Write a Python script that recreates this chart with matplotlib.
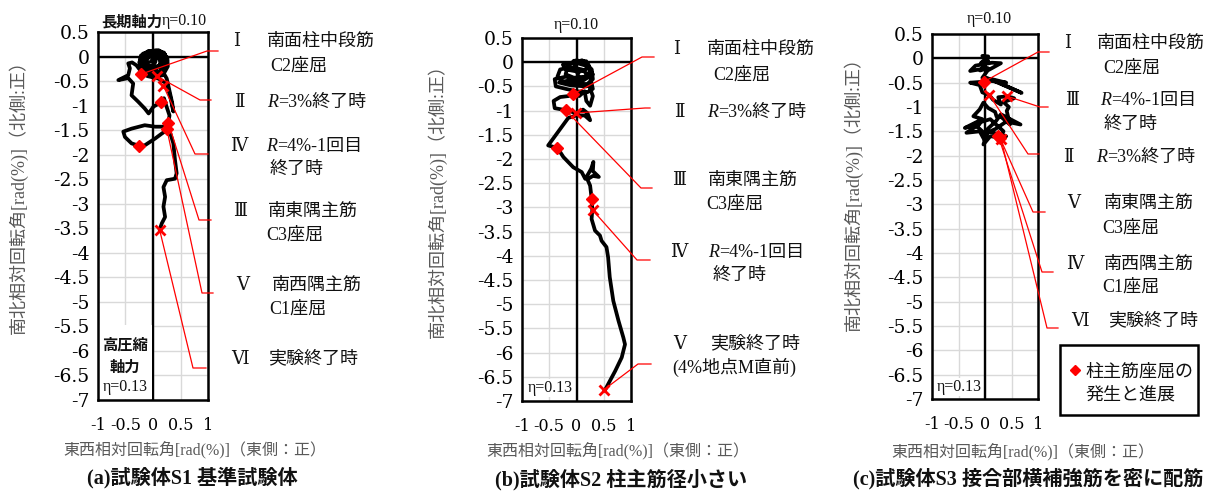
import matplotlib
matplotlib.use('Agg')
import matplotlib.pyplot as plt
from matplotlib.lines import Line2D
from matplotlib.patches import Rectangle

CJK = 'Noto Sans CJK JP'
plt.rcParams['font.family'] = ['Liberation Serif', CJK]

# ---- data -------------------------------------------------------------
xticks = [-1, -0.5, 0, 0.5, 1]
xticklabels = ['-1', '-0.5', '0', '0.5', '1']
yticks = [0.5, 0, -0.5, -1, -1.5, -2, -2.5, -3, -3.5, -4, -4.5, -5, -5.5, -6, -6.5, -7]
yticklabels = ['0.5', '0', '-0.5', '-1', '-1.5', '-2', '-2.5', '-3', '-3.5', '-4',
               '-4.5', '-5', '-5.5', '-6', '-6.5', '-7']

# 東西(x) / 南北(y) 相対回転角の軌跡 [rad(%)]
path_a = [(0, 0), (0.08, 0.1), (0.18, 0.06), (0.24, -0.05), (0.22, -0.2), (0.12, -0.3),
          (-0.02, -0.32), (-0.15, -0.25), (-0.2, -0.1), (-0.12, 0.05), (0.0, 0.12),
          (0.15, 0.1), (0.26, -0.02), (0.27, -0.2), (0.18, -0.38), (0.02, -0.42),
          (-0.14, -0.35), (-0.24, -0.18), (-0.22, 0.02), (-0.08, 0.11), (0.1, 0.13),
          (0.22, 0.04), (0.2, -0.12), (0.08, -0.2), (-0.08, -0.18), (-0.12, -0.05),
          (0.0, 0.03), (0.05, 0.12), (0.2, 0.08), (0.26, -0.08), (0.22, -0.28),
          (0.05, -0.36), (-0.15, -0.32), (-0.25, -0.12), (-0.18, 0.06), (0.0, 0.1),
          (0.14, 0.02), (0.17, -0.14), (0.05, -0.25), (-0.1, -0.22), (-0.16, -0.08),
          (-0.05, 0.04), (0.06, -0.02), (0.04, -0.12), (-0.04, -0.1), (0.1, 0.06),
          (0.23, -0.1), (0.2, -0.33), (0.0, -0.38), (-0.2, -0.28), (-0.23, -0.05),
          (-0.1, 0.1), (0.12, 0.1), (0.12, -0.05), (0.15, -0.25), (0.25, -0.45), (0.3, -0.7),
          (0.35, -0.95), (0.37, -1.12), (0.32, -0.85), (0.25, -0.55), (0.1, -0.45),
          (-0.1, -0.4), (-0.22, -0.3), (-0.3, -0.18), (-0.38, -0.12), (-0.45, -0.14),
          (-0.42, -0.24), (-0.45, -0.38), (-0.63, -0.48), (-0.45, -0.44), (-0.36, -0.55),
          (-0.39, -0.79), (-0.27, -0.92), (-0.15, -1.06), (-0.08, -1.16), (0.01, -1.02),
          (0.15, -0.93), (0.2, -0.85), (0.24, -1.0), (0.3, -1.2), (0.28, -1.35),
          (0.25, -1.43), (0.04, -1.43), (-0.15, -1.40), (-0.39, -1.47), (-0.54, -1.53),
          (-0.51, -1.64), (-0.39, -1.77), (-0.25, -1.82), (-0.15, -1.81), (0.04, -1.67),
          (0.16, -1.57), (0.25, -1.50), (0.31, -1.55), (0.37, -1.77), (0.4, -2.11),
          (0.43, -2.38), (0.40, -2.49), (0.25, -2.52), (0.19, -2.66), (0.22, -2.86),
          (0.19, -3.06), (0.22, -3.27), (0.16, -3.40), (0.12, -3.53)]

path_b = [(0, 0), (0.1, 0.04), (0.22, -0.05), (0.25, -0.2), (0.15, -0.3), (-0.05, -0.32),
          (-0.2, -0.25), (-0.15, -0.05), (0, 0.04), (0.15, 0.0), (0.28, -0.15), (0.3, -0.35),
          (0.2, -0.45), (0.0, -0.45), (-0.25, -0.4), (-0.35, -0.3), (-0.3, -0.15),
          (-0.1, -0.1), (0.1, -0.15), (0.25, -0.3), (0.3, -0.55), (0.2, -0.62), (0.0, -0.6),
          (-0.2, -0.55), (-0.38, -0.5), (-0.4, -0.35), (-0.2, -0.3), (0.05, -0.35),
          (-0.05, 0.03), (0.18, 0.02), (0.22, -0.12), (0.05, -0.2), (-0.2, -0.15),
          (-0.25, -0.05), (-0.05, 0.0), (0.2, -0.08), (0.3, -0.25), (0.12, -0.38),
          (-0.15, -0.38), (-0.32, -0.42), (-0.1, -0.48), (0.18, -0.5), (0.26, -0.4),
          (0.22, -0.45), (0.3, -0.7), (0.25, -0.9), (0.18, -0.8), (0.15, -0.6), (0.05, -0.7),
          (-0.06, -0.66), (-0.15, -0.7), (-0.3, -0.72), (-0.42, -0.8), (-0.4, -0.95),
          (-0.2, -0.99), (-0.01, -1.05), (0.12, -0.98), (0.2, -1.05), (0.25, -1.2),
          (0.15, -1.1), (0.0, -1.1), (-0.15, -1.15), (-0.52, -1.72), (-0.35, -1.77),
          (-0.24, -1.96), (-0.06, -2.17), (0.095, -2.27), (0.16, -2.41), (0.22, -2.3),
          (0.27, -2.2), (0.31, -2.06), (0.3, -2.25), (0.41, -2.37), (0.3, -2.35),
          (0.2, -2.42), (0.25, -2.55), (0.28, -2.84), (0.29, -3.05), (0.277, -3.24),
          (0.34, -3.48), (0.43, -3.58), (0.46, -3.69), (0.55, -3.82), (0.58, -4.03),
          (0.61, -4.44), (0.675, -4.93), (0.77, -5.34), (0.86, -5.69), (0.89, -5.83),
          (0.83, -6.10), (0.71, -6.38), (0.52, -6.78)]

path_c = [(0, 0), (-0.05, 0.05), (0.06, 0.04), (-0.08, -0.1), (0.06, -0.05), (-0.09, -0.25),
          (0.05, -0.2), (-0.28, -0.26), (-0.18, -0.15), (0.13, -0.09), (0.3, -0.1),
          (0.05, -0.25), (-0.05, -0.4), (0.03, -0.4), (0.69, -0.71), (0.1, -0.42),
          (0.4, -0.5), (0.0, -0.45), (-0.02, -0.48), (-0.28, -0.5), (-0.1, -0.55),
          (-0.05, -0.7), (0.08, -0.75), (0.15, -0.85), (0.3, -0.95), (0.25, -0.8),
          (0.42, -0.78), (0.55, -0.82), (0.35, -0.9), (0.45, -1.0), (0.41, -1.08),
          (0.47, -1.36), (0.3, -1.2), (0.22, -1.2), (0.19, -1.1), (0.06, -1.02),
          (-0.03, -0.91), (-0.1, -1.05), (-0.22, -1.19), (-0.05, -1.25), (-0.38, -1.43),
          (-0.1, -1.35), (-0.35, -1.53), (-0.1, -1.5), (0.0, -1.7), (0.05, -1.45),
          (0.2, -1.3), (0.3, -1.15), (0.67, -1.36), (0.4, -1.3), (0.2, -1.45), (0.0, -1.55),
          (-0.2, -1.35), (0.1, -1.25), (0.35, -1.5), (0.28, -1.63), (0.1, -1.6),
          (-0.03, -1.77), (0.05, -1.5), (0.4, -1.6), (0.28, -1.63)]

# 柱主筋座屈 (◆) と 各サイクル終了点 (×)
diam_a = [(-0.22, -0.36), (0.15, -0.93), (0.28, -1.35), (0.25, -1.47), (-0.25, -1.82)]
cross_a = [(0.07, -0.40), (0.19, -0.60), (0.12, -3.53)]
diam_b = [(-0.06, -0.66), (-0.2, -0.99), (-0.35, -1.77), (0.28, -2.83)]
cross_b = [(-0.01, -1.05), (0.30, -3.06), (0.50, -6.77)]
diam_c = [(-0.02, -0.48), (0.28, -1.63), (0.25, -1.60)]
cross_c = [(0.08, -0.75), (0.42, -0.78), (0.30, -1.65)]

# 引出線の対象点
pts_a = {'Ⅰ': (-0.22, -0.36), 'Ⅱ': (0.07, -0.40), 'Ⅳ': (0.19, -0.60),
         'Ⅲ': (0.28, -1.35), 'Ⅴ': (0.25, -1.47), 'Ⅵ': (0.12, -3.53)}
pts_b = {'Ⅰ': (-0.06, -0.66), 'Ⅱ': (-0.01, -1.05), 'Ⅲ': (-0.2, -0.99),
         'Ⅳ': (0.30, -3.06), 'Ⅴ': (0.50, -6.77)}
pts_c = {'Ⅰ': (-0.02, -0.48), 'Ⅲ': (0.42, -0.78), 'Ⅱ': (0.08, -0.75),
         'Ⅴ': (0.28, -1.63), 'Ⅳ': (0.26, -1.62), 'Ⅵ': (0.30, -1.65)}

# 注記テキスト
notes_a = [('Ⅰ', ['南面柱中段筋', 'C2座屈']), ('Ⅱ', ['R=3%終了時']),
           ('Ⅳ', ['R=4%-1回目', '終了時']), ('Ⅲ', ['南東隅主筋', 'C3座屈']),
           ('Ⅴ', ['南西隅主筋', 'C1座屈']), ('Ⅵ', ['実験終了時'])]
notes_b = [('Ⅰ', ['南面柱中段筋', 'C2座屈']), ('Ⅱ', ['R=3%終了時']),
           ('Ⅲ', ['南東隅主筋', 'C3座屈']), ('Ⅳ', ['R=4%-1回目', '終了時']),
           ('Ⅴ', ['実験終了時', '(4%地点M直前)'])]
notes_c = [('Ⅰ', ['南面柱中段筋', 'C2座屈']), ('Ⅲ', ['R=4%-1回目', '終了時']),
           ('Ⅱ', ['R=3%終了時']), ('Ⅴ', ['南東隅主筋', 'C3座屈']),
           ('Ⅳ', ['南西隅主筋', 'C1座屈']), ('Ⅵ', ['実験終了時'])]

titles = ['(a)試験体S1 基準試験体', '(b)試験体S2 柱主筋径小さい', '(c)試験体S3 接合部横補強筋を密に配筋']
xlabel = '東西相対回転角[rad(%)]（東側：正）'
ylabel = '南北相対回転角[rad(%)]（北側:正）'
legend_text = ['柱主筋座屈の', '発生と進展']

# ---- layout (pixels from top-left) -------------------------------------
W, H = 1214, 491
fig = plt.figure(figsize=(W / 100, H / 100), dpi=100)


def P(x, y):
    return (x / W, 1 - y / H)


def ptxt(x, y, s, size=13, **kw):
    # y is the visual centre of the line; place on baseline
    bl = y + 0.37 * size * 100 / 72
    return fig.text(x / W, 1 - bl / H, s, size=size, va='baseline', **kw)


boxes = [(98, 32, 208, 400), (522, 38, 631, 401), (932, 34, 1038, 399)]
paths = [path_a, path_b, path_c]
diams = [diam_a, diam_b, diam_c]
crosses = [cross_a, cross_b, cross_c]
ptss = [pts_a, pts_b, pts_c]
notess = [notes_a, notes_b, notes_c]

# leader line: elbow x, y, end x
elbows = [
    {'Ⅰ': (207, 51, 218), 'Ⅱ': (200, 100, 211), 'Ⅳ': (195, 154, 208),
     'Ⅲ': (199, 220, 211), 'Ⅴ': (202, 293, 213), 'Ⅵ': (193, 368, 206)},
    {'Ⅰ': (642, 57, 654), 'Ⅱ': (645, 108, 650), 'Ⅲ': (641, 188, 652),
     'Ⅳ': (637, 260, 650), 'Ⅴ': (638, 364, 651)},
    {'Ⅰ': (1038, 52, 1049), 'Ⅲ': (1040, 107, 1048), 'Ⅱ': (1028, 154, 1039),
     'Ⅴ': (1033, 212, 1045), 'Ⅳ': (1042, 272, 1053), 'Ⅵ': (1047, 328, 1058)},
]
# numeral centre x, y, text left x, second-line left x, second-line y
note_pos = [
    [(237, 39, 267, 270, 64), (239, 100, 267, 0, 0), (239, 144, 266, 270, 167),
     (240, 209, 268, 266, 233), (243, 283, 272, 269, 307), (240, 357, 268, 0, 0)],
    [(677, 47, 707, 713, 73), (679, 110, 707, 0, 0), (679, 178, 708, 706, 202),
     (679, 250, 708, 713, 273), (680, 342, 710, 672, 366)],
    [(1068, 41, 1097, 1103, 66), (1072, 98, 1100, 1104, 122), (1068, 155, 1096, 0, 0),
     (1074, 201, 1104, 1102, 226), (1075, 262, 1104, 1102, 285), (1080, 319, 1108, 0, 0)],
]
ylabel_pos = [(18, 192), (437, 196), (853, 190)]
xlabel_pos = [(195, 450), (618, 451), (1023, 452)]
title_pos = [(192, 478), (621, 480), (1028, 479)]
eta_top = [(162, 21), (576, 25), (989, 19)]
eta_bot = [(125, 387), (550, 388), (959, 387)]

GRAY = '#595959'


def draw_line(x, y, s, size=13):
    if s.startswith('R='):
        ptxt(x, y, 'R', size=size, style='italic', color='#111111')
        ptxt(x + 11, y, s[1:], size=size, color='#111111')
    else:
        ptxt(x, y, s, size=size, color='#111111')


for i in range(3):
    l, t, r, b = boxes[i]
    ax = fig.add_axes([l / W, 1 - b / H, (r - l) / W, (b - t) / H])
    ax.set_xlim(-1, 1)
    ax.set_ylim(-7, 0.5)
    ax.set_xticks(xticks)
    ax.set_xticklabels(xticklabels, family='DejaVu Serif', size=11.5)
    ax.set_yticks(yticks)
    ax.set_yticklabels(yticklabels, family='DejaVu Serif', size=13.5)
    ax.tick_params(length=0)
    ax.tick_params(axis='x', pad=12)
    ax.tick_params(axis='y', pad=6)
    ax.grid(True, color='#d9d9d9', lw=1.0, zorder=0)
    ax.set_axisbelow(True)
    for sp in ax.spines.values():
        sp.set_linewidth(1.8)
    ax.axhline(0, color='black', lw=1.7, zorder=1)
    ax.axvline(0, color='black', lw=1.7, zorder=1)

    px = [p[0] for p in paths[i]]
    py = [p[1] for p in paths[i]]
    ax.plot(px, py, color='black', lw=2.7, solid_joinstyle='round',
            solid_capstyle='round', zorder=3)
    ax.plot([p[0] for p in diams[i]], [p[1] for p in diams[i]], 'D', color='red',
            ms=6, zorder=5)
    ax.plot([p[0] for p in crosses[i]], [p[1] for p in crosses[i]], 'x', color='red',
            ms=7, mew=2, zorder=5)

    # leader lines
    for key, (ex, ey, endx) in elbows[i].items():
        mx, my = ptss[i][key]
        d = ax.transData.transform((mx, my))
        fx, fy = fig.transFigure.inverted().transform(d)
        e1 = P(ex, ey)
        e2 = P(endx, ey)
        fig.add_artist(Line2D([fx, e1[0], e2[0]], [fy, e1[1], e2[1]],
                              transform=fig.transFigure, color='red', lw=0.9, zorder=6))

    # notes
    for (num, lines), (nx, ny, tx, tx2, ty2) in zip(notess[i], note_pos[i]):
        ptxt(nx, ny, num, size=13, ha='center', color='#111111',
             family=['DejaVu Serif', CJK])
        draw_line(tx, ny, lines[0])
        if len(lines) > 1:
            draw_line(tx2, ty2, lines[1])

    # axis titles
    yx, yy = ylabel_pos[i]
    fig.text(*P(yx, yy), ylabel, rotation=90, ha='center', va='center', size=13,
             color=GRAY)
    xx, xy = xlabel_pos[i]
    fig.text(*P(xx, xy), xlabel, ha='center', va='center', size=11.5, color=GRAY)
    tx_, ty_ = title_pos[i]
    fig.text(*P(tx_, ty_), titles[i], ha='center', va='center', size=14.5,
             weight='bold', color='#111111')

    # axial force notes
    ex_, ey_ = eta_top[i]
    if i == 0:
        fig.text(*P(ex_, ey_), '長期軸力', ha='right', va='center', size=11,
                 weight='bold', color='#111111', family=CJK)
        fig.text(*P(ex_, ey_), 'η=0.10', ha='left', va='center', size=11.5,
                 color='#111111')
    else:
        fig.text(*P(ex_, ey_), 'η=0.10', ha='center', va='center', size=11.5,
                 color='#111111')
    bx, by = eta_bot[i]
    if i == 0:
        ax.add_patch(Rectangle((-0.98, -6.98), 0.96, 1.5, facecolor='white',
                               edgecolor='none', zorder=2))
        fig.text(*P(bx, 345), '高圧縮', ha='center', va='center', size=11,
                 weight='bold', color='#111111', family=CJK)
        fig.text(*P(bx, 367), '軸力', ha='center', va='center', size=11,
                 weight='bold', color='#111111', family=CJK)
    fig.text(*P(bx, by), 'η=0.13', ha='center', va='center', size=11.5,
             color='#111111',
             bbox=dict(facecolor='white', edgecolor='none', pad=0.5))

# legend box in (c)
lx0, ly0 = P(1060, 415)
lx1, ly1 = P(1198, 345)
fig.add_artist(Rectangle((lx0, ly0), lx1 - lx0, ly1 - ly0, transform=fig.transFigure,
                         facecolor='white', edgecolor='black', lw=1.8, zorder=4))
mk = P(1075, 370)
fig.add_artist(Line2D([mk[0]], [mk[1]], transform=fig.transFigure, marker='D',
                      color='red', ms=5, zorder=5))
ptxt(1085, 370, legend_text[0], size=13, color='#111111', zorder=5)
ptxt(1085, 393, legend_text[1], size=13, color='#111111', zorder=5)

fig.savefig('out.png', dpi=100)
